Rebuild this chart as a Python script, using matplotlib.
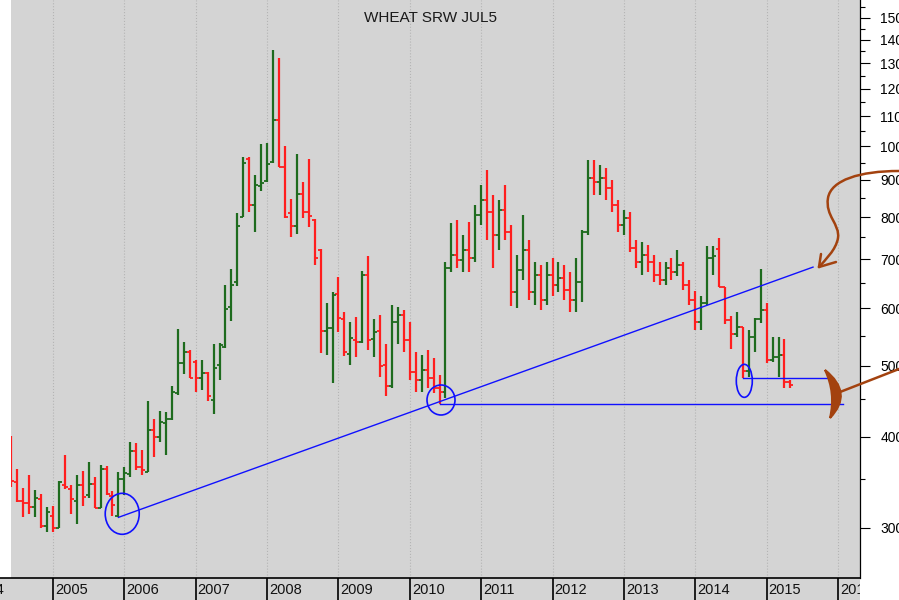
import numpy as np
import matplotlib.pyplot as plt
from matplotlib.patches import Ellipse, PathPatch
from matplotlib.path import Path
from matplotlib.transforms import ScaledTranslation

plt.rcParams['font.family'] = ['Liberation Sans', 'DejaVu Sans']

# monthly OHLC, first bar = June 2004
start_year, start_month = 2004, 6

opens = [397, 347, 326, 324, 320, 328, 302,
         311, 300, 343, 339, 326, 343, 333, 344, 319, 361, 332, 311,
         350, 355, 382, 363, 358, 409, 399, 417, 423, 459, 505, 523,
         507, 481, 489, 449, 502, 530, 603, 651, 799, 961, 831, 882,
         896, 952, 1088, 938, 809, 778, 860, 812, 793, 721, 558, 563,
         628, 580, 519, 542, 539, 666, 544, 558, 502, 470, 575, 588,
         543, 491, 479, 494, 482, 467, 461, 681, 710, 699, 721, 703,
         805, 844, 813, 756, 818, 763, 632, 677, 721, 632, 666, 616,
         666, 646, 660, 636, 616, 652, 763, 905, 893, 905, 876, 831,
         780, 798, 726, 694, 710, 694, 666, 656, 681, 673, 688, 646,
         616, 575, 610, 703, 724, 641, 578, 553, 565, 492, 548, 580,
         597, 509, 515, 517, 476]
highs = [401, 361, 340, 354, 338, 334, 320,
         321, 348, 378, 343, 354, 359, 369, 352, 366, 365, 337, 358,
         363, 393, 392, 384, 447, 423, 434, 432, 470, 561, 540, 526,
         510, 510, 491, 536, 537, 646, 680, 810, 968, 968, 913, 1006,
         1009, 1354, 1320, 1002, 847, 975, 894, 961, 795, 723, 610, 632,
         661, 592, 574, 584, 675, 707, 580, 587, 535, 606, 602, 597,
         574, 523, 518, 526, 513, 486, 694, 785, 793, 756, 788, 831,
         885, 928, 857, 844, 885, 780, 710, 805, 744, 694, 688, 694,
         703, 694, 688, 673, 703, 768, 957, 957, 942, 934, 899, 844,
         818, 813, 744, 739, 732, 710, 694, 694, 703, 721, 694, 656,
         634, 624, 729, 729, 749, 641, 585, 592, 566, 560, 582, 679,
         610, 547, 547, 545, 479]
lows = [341, 325, 310, 313, 310, 300, 296,
        296, 300, 339, 313, 304, 321, 330, 319, 319, 333, 311, 310,
        333, 352, 360, 354, 358, 375, 393, 378, 422, 456, 488, 481,
        461, 464, 447, 430, 479, 529, 577, 643, 799, 813, 762, 868,
        894, 949, 938, 797, 751, 758, 797, 775, 688, 521, 518, 474,
        557, 516, 501, 514, 538, 526, 514, 483, 455, 467, 535, 523,
        479, 461, 461, 467, 459, 444, 452, 673, 681, 673, 673, 694,
        780, 744, 681, 721, 744, 604, 601, 656, 616, 606, 597, 606,
        624, 632, 616, 593, 593, 612, 756, 857, 857, 844, 813, 763,
        756, 716, 681, 666, 673, 652, 646, 646, 656, 664, 636, 606,
        560, 560, 606, 666, 642, 571, 528, 548, 481, 483, 523, 573,
        505, 507, 483, 466, 467]
closes = [348, 326, 324, 320, 330, 302, 315,
          300, 347, 341, 328, 343, 331, 344, 319, 361, 334, 322, 350,
          357, 382, 363, 360, 409, 399, 419, 423, 460, 505, 523, 482,
          481, 489, 454, 497, 534, 598, 646, 778, 949, 831, 885, 892,
          946, 1088, 938, 799, 778, 860, 812, 802, 703, 558, 563, 625,
          582, 523, 546, 539, 666, 542, 556, 500, 470, 575, 588, 543,
          491, 479, 494, 482, 467, 461, 681, 710, 699, 721, 703, 805,
          844, 813, 756, 818, 763, 632, 677, 721, 632, 666, 616, 666,
          646, 660, 636, 616, 652, 763, 905, 893, 905, 876, 831, 780,
          798, 726, 694, 710, 694, 666, 656, 681, 673, 688, 646, 616,
          575, 610, 703, 708, 642, 578, 553, 565, 492, 548, 580, 597,
          509, 514, 517, 476, 471]

years = list(range(2004, 2017))
price_ticks = list(range(300, 1600, 100))
price_minor = list(range(350, 1600, 100))

# blue annotations (date in years, price)
trend_line = [(2005 + 11 / 12, 310), (2015.65, 683)]
support_lines = [[(2010 + 5 / 12, 444), (2016.07, 444)],
                 [(2014 + 8 / 12, 481), (2015.916, 481)]]
rings = [(2005.97, 313.5, 0.34, 0.41), (2010.437, 449, 0.28, 0.30),
         (2014.687, 477, 0.16, 0.33)]

GREEN = '#1e6b1e'
RED = '#ff1e1e'
BG = '#d4d4d4'
BROWN = '#a3420f'
PX_PER_YEAR = 71.364

o = np.array(opens, float)
h = np.array(highs, float)
l = np.array(lows, float)
c = np.array(closes, float)
t = start_year + (start_month - 1 + np.arange(len(o))) / 12
cols = np.where(c >= o, GREEN, RED)

fig = plt.figure(figsize=(8.99, 6), dpi=100)
ax = fig.add_axes([11 / 899, 22 / 600, 849 / 899, 578 / 600])
ax.set_facecolor(BG)
ax.set_yscale('log')
ax.set_xlim(2004.4115, 2016.3083)
ax.set_ylim(256, 1587)

for yr in years:
    ax.axvline(yr, color='#b4b4b4', ls=':', lw=0.8, zorder=0)

d = 0.042
ax.vlines(t, l, h, colors=cols, lw=1.6, zorder=2)
ax.hlines(o, t - d, t, colors=cols, lw=1.3, zorder=2)
ax.hlines(c, t, t + d, colors=cols, lw=1.3, zorder=2)

# trend / support lines
(x0, y0), (x1, y1) = trend_line
ax.plot([x0, x1], [y0, y1], color='#1010ff', lw=1.0, zorder=3)
for seg in support_lines:
    ax.plot([p[0] for p in seg], [p[1] for p in seg], color='#1010ff', lw=1.0, zorder=3)
for rx, ry, w, hh in rings:
    tr = fig.dpi_scale_trans + ScaledTranslation(rx, ry, ax.transData)
    e = Ellipse((0, 0), w, hh, transform=tr, fill=False, ec='#1010ff', lw=1.2, zorder=3)
    ax.add_artist(e)

ax.text(0.4945, 0.969, 'WHEAT SRW JUL5', transform=ax.transAxes, ha='center',
        va='center', fontsize=11, color='#1a1a1a')

ax.set_xticks([])
ax.yaxis.tick_right()
ax.set_yticks(price_ticks)
ax.set_yticklabels([str(v) for v in price_ticks])
ax.set_yticks(price_minor, minor=True)
ax.set_yticklabels([], minor=True)
ax.tick_params(axis='y', which='major', length=7.2, width=0.8, pad=7.4, labelsize=10)
ax.tick_params(axis='y', which='minor', length=3.6, width=0.8)
for s in ['left', 'top', 'bottom']:
    ax.spines[s].set_visible(False)
ax.spines['right'].set_linewidth(0.9)

# year band at the bottom
bx = fig.add_axes([0, 0, 860 / 899, 22 / 600])
bx.set_facecolor(BG)
bx.set_xlim(2004.2573, 2016.3083)
bx.set_ylim(0, 1)
bx.set_xticks([])
bx.set_yticks([])
for s in ['left', 'right', 'bottom']:
    bx.spines[s].set_visible(False)
bx.spines['top'].set_linewidth(1.2)
for yr in years:
    bx.axvline(yr, color='black', lw=1.2)
    if yr == years[0]:
        # first label sits cut at the left edge
        bx.text(2004.2573 + 4 / PX_PER_YEAR, 0.45, str(yr), ha='right', va='center',
                fontsize=10.5, color='#111111', clip_on=True)
    else:
        bx.text(yr + 2 / PX_PER_YEAR, 0.45, str(yr), ha='left', va='center',
                fontsize=10.5, color='#111111', clip_on=True)

# hand-drawn brown marks, figure pixels
ox = fig.add_axes([0, 0, 1, 1])
ox.set_xlim(0, 899)
ox.set_ylim(600, 0)
ox.axis('off')
ox.patch.set_alpha(0)

C4 = Path.CURVE4
curve = Path([(899, 171), (860, 171), (831, 180), (828, 198),
              (825, 216), (840, 224), (838, 238),
              (836, 250), (825, 260), (819, 267)],
             [Path.MOVETO, C4, C4, C4, C4, C4, C4, C4, C4, C4])
ox.add_patch(PathPatch(curve, fill=False, ec=BROWN, lw=1.8, capstyle='round'))
ox.plot([819, 821], [267, 254], color=BROWN, lw=1.8, solid_capstyle='round')
ox.plot([819, 836], [267, 262], color=BROWN, lw=1.8, solid_capstyle='round')

C3 = Path.CURVE3
bracket = Path([(825, 370), (854, 393), (830, 418), (836, 393), (825, 370), (825, 370)],
               [Path.MOVETO, C3, C3, C3, C3, Path.CLOSEPOLY])
ox.add_patch(PathPatch(bracket, fc=BROWN, ec=BROWN, lw=1.5))
ox.plot([840, 899], [392, 369], color=BROWN, lw=1.8)

fig.savefig('out.png', dpi=100)
